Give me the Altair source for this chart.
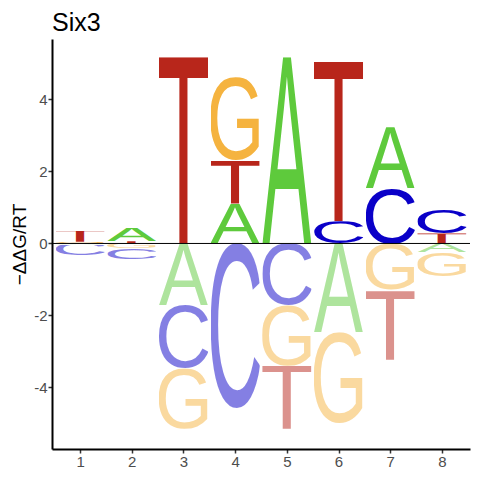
import urllib.parse
import altair as alt
import pandas as pd

# Energy logo for Six3: letters stacked from zero outward at each position
positions = [1, 1, 1, 1,
             2, 2, 2, 2,
             3, 3, 3, 3,
             4, 4, 4, 4,
             5, 5, 5, 5,
             6, 6, 6, 6,
             7, 7, 7, 7,
             8, 8, 8, 8]
letters = ["G", "T", "A", "C",
           "T", "A", "G", "C",
           "T", "A", "C", "G",
           "A", "T", "G", "C",
           "A", "C", "G", "T",
           "C", "T", "A", "G",
           "C", "A", "G", "T",
           "T", "C", "A", "G"]
values = [0.05, 0.30, -0.03, -0.30,
          0.06, 0.38, -0.14, -0.29,
          5.17, -1.71, -1.76, -1.68,
          1.11, 1.21, 2.30, -4.58,
          5.17, -1.71, -1.69, -1.75,
          0.62, 4.42, -2.47, -2.54,
          1.54, 1.69, -1.30, -1.93,
          0.28, 0.66, -0.25, -0.66]

letter_colors = {"A": "#5ECA3C", "C": "#0A00C8", "G": "#F5B33F", "T": "#B8261B"}
# glyph bounding boxes (font units of 1000) used as SVG viewBox
glyph_box = {"A": "0 -688 667 688", "C": "49 -700 629 712",
             "G": "54 -700 665 712", "T": "24 -688 563 688"}

def letter_url(letter, negative):
    op = 0.5 if negative else 1.0
    vb = glyph_box[letter]
    w, h = vb.split()[2:]
    svg = (f'<svg xmlns="http://www.w3.org/2000/svg" width="{w}" height="{h}" '
           f'viewBox="{vb}" preserveAspectRatio="none">'
           f'<text x="0" y="0" font-family="Liberation Sans, Arial, sans-serif" '
           f'font-size="1000" fill="{letter_colors[letter]}" fill-opacity="{op}">{letter}</text></svg>')
    return "data:image/svg+xml;charset=utf-8," + urllib.parse.quote(svg)

rows = []
pos_top = {}
neg_top = {}
half = 0.475
for p, l, v in zip(positions, letters, values):
    if v >= 0:
        base = pos_top.get(p, 0.0)
        pos_top[p] = base + v
    else:
        base = neg_top.get(p, 0.0)
        neg_top[p] = base + v
    rows.append({"position": p, "letter": l, "y0": base, "y1": base + v,
                 "x0": p - half, "x1": p + half, "url": letter_url(l, v < 0)})
df = pd.DataFrame(rows)

xscale = alt.Scale(domain=[0.457, 8.543], nice=False, zero=False)
yscale = alt.Scale(domain=[-5.71, 5.68], nice=False, zero=False)

logo = alt.Chart(df).mark_image(aspect=False).encode(
    x=alt.X("x0:Q", scale=xscale,
            axis=alt.Axis(values=[1, 2, 3, 4, 5, 6, 7, 8], title=None,
                          labelExpr="toString(datum.value)")),
    x2="x1:Q",
    y=alt.Y("y0:Q", scale=yscale,
            axis=alt.Axis(values=[-4, -2, 0, 2, 4], title="\u2212\u0394\u0394G/RT",
                          labelExpr="toString(datum.value)")),
    y2="y1:Q",
    url="url:N",
)

zero = alt.Chart(pd.DataFrame({"y": [0]})).mark_rule(color="black", strokeWidth=1).encode(
    y=alt.Y("y:Q", scale=yscale)
)

chart = alt.layer(logo, zero).properties(
    width=418, height=410,
    title=alt.TitleParams("Six3", anchor="start", frame="group", fontSize=25,
                          font="Liberation Sans", fontWeight="normal", color="black", offset=3),
    autosize=alt.AutoSizeParams(type="none"),
    padding={"left": 44, "top": 31, "right": 2, "bottom": 19},
).configure_view(stroke=None).configure_axis(
    grid=False, domainColor="black", domainWidth=2, tickColor="#333333", tickWidth=1.5,
    tickSize=4, labelFont="Liberation Sans", labelFontSize=15, labelColor="#4D4D4D",
    labelPadding=1, titleFont="Liberation Sans", titleFontSize=19, titleColor="black",
    titleFontWeight="normal", titlePadding=4,
)

chart.save("out.html", embed_options={"renderer": "svg", "actions": False})
